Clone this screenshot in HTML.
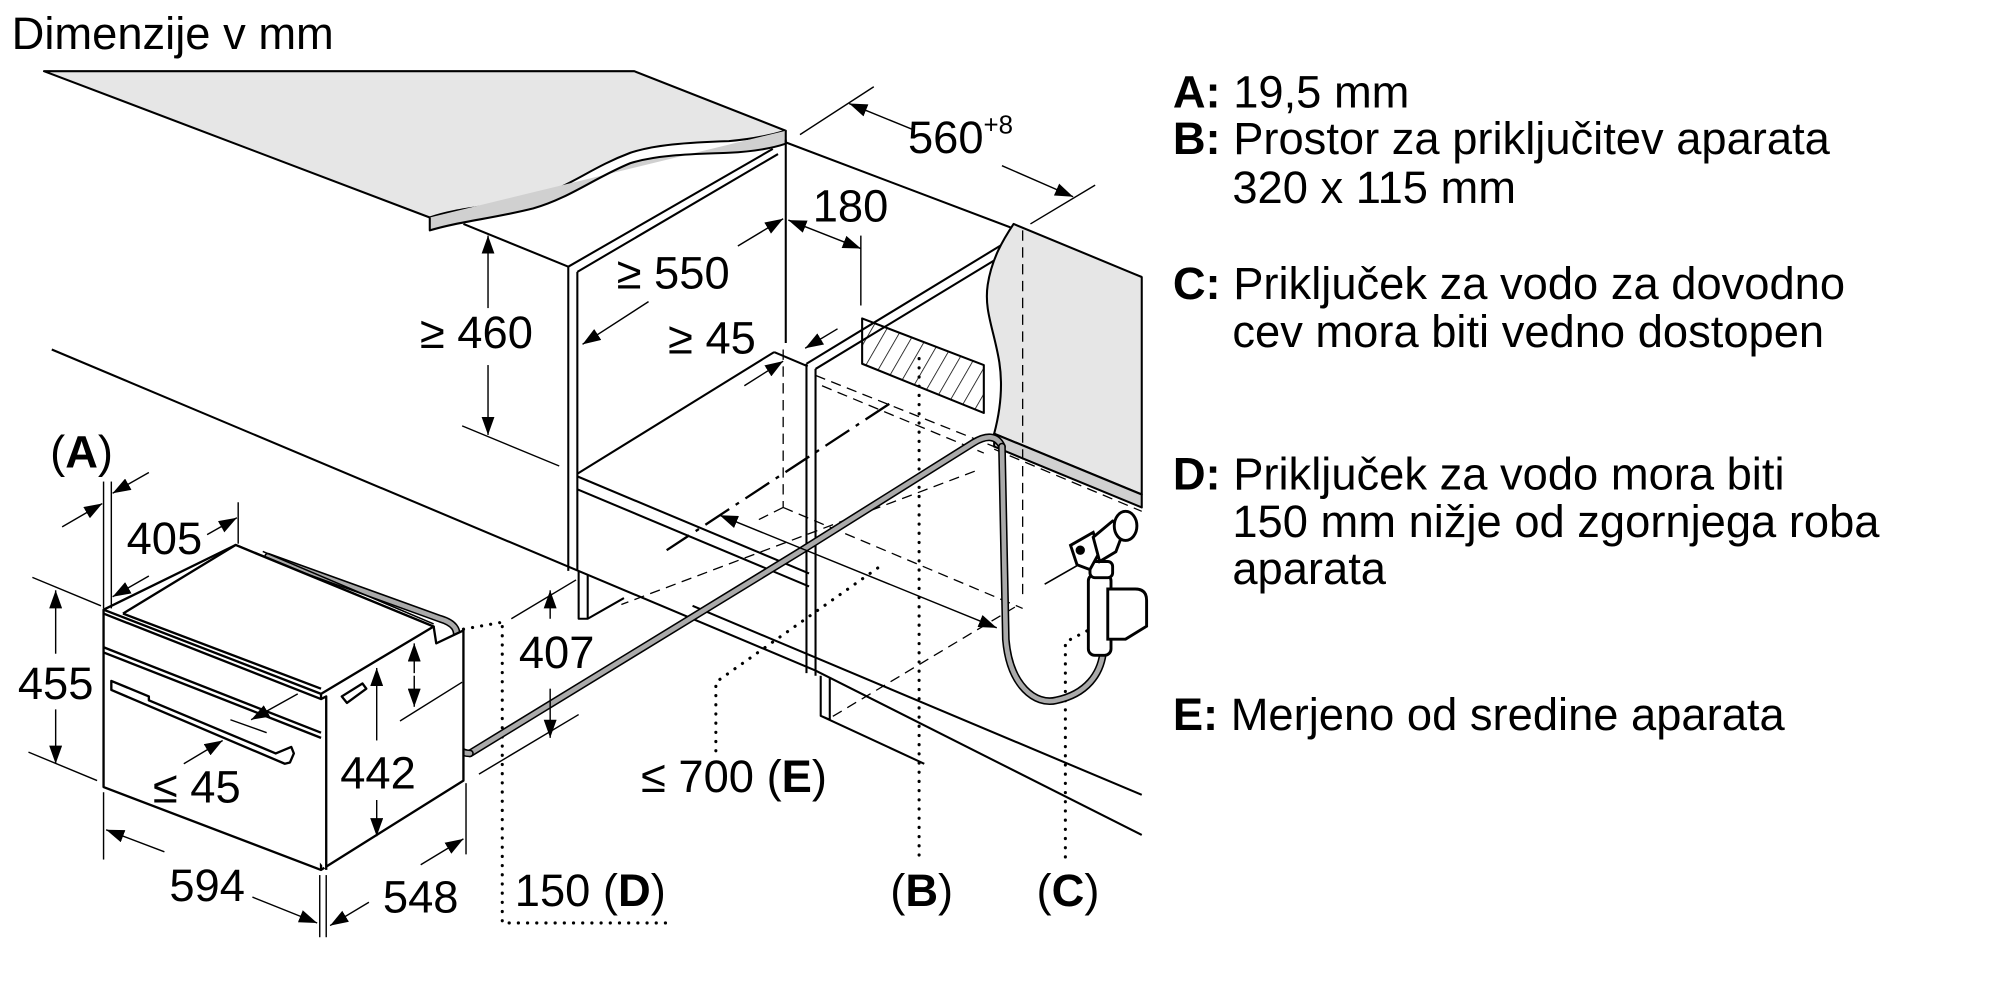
<!DOCTYPE html>
<html><head><meta charset="utf-8">
<style>
html,body{margin:0;padding:0;background:#fff;}
svg{display:block}
text{font-family:"Liberation Sans",Arial,sans-serif;fill:#000}
</style></head>
<body>
<svg width="2000" height="1000" viewBox="0 0 1545 772.5" preserveAspectRatio="none" xmlns="http://www.w3.org/2000/svg">
<defs>
<marker id="a" viewBox="0 0 14 10" refX="14" refY="5" markerWidth="14" markerHeight="10" markerUnits="userSpaceOnUse" orient="auto-start-reverse">
<path d="M0,0 L14,5 L0,10 Z" fill="#000"/></marker>
<pattern id="h" width="10" height="10" patternUnits="userSpaceOnUse" patternTransform="rotate(30)">
<line x1="0" y1="0" x2="0" y2="10" stroke="#000" stroke-width="1.2"/></pattern>
</defs>

<text x="9" y="38" font-size="35">Dimenzije v mm</text>

<!-- legend -->
<g font-size="35">
<text x="906" y="83"><tspan font-weight="bold">A:</tspan> 19,5 mm</text>
<text x="906" y="119"><tspan font-weight="bold">B:</tspan> Prostor za priključitev aparata</text>
<text x="952" y="157">320 x 115 mm</text>
<text x="906" y="231"><tspan font-weight="bold">C:</tspan> Priključek za vodo za dovodno</text>
<text x="952" y="268">cev mora biti vedno dostopen</text>
<text x="906" y="378"><tspan font-weight="bold">D:</tspan> Priključek za vodo mora biti</text>
<text x="952" y="415">150 mm nižje od zgornjega roba</text>
<text x="952" y="451">aparata</text>
<text x="906" y="564"><tspan font-weight="bold">E:</tspan> Merjeno od sredine aparata</text>
</g>

<g fill="none" stroke="#000" stroke-width="1.6" stroke-linejoin="round">
<!-- left countertop -->
<path d="M34,55 L490,55 L607,101 C590,106 575,108 563,109 C530,110 505,112 487,118 C455,130 440,145 412,152 C380,160 355,160 332,168 Z" fill="#e6e6e6"/>
<path d="M332,168 L332,178 C355,171 380,169 412,161 C440,153 460,137 487,126 C510,119 540,119 563,118 C585,117 598,114 607,111 L607,101" fill="#d0d0d0"/>

<!-- left cabinet -->
<line x1="358" y1="173" x2="439" y2="206"/>
<line x1="439" y1="206" x2="597" y2="115"/>
<line x1="446" y1="210" x2="601" y2="119"/>
<line x1="439" y1="206" x2="439" y2="441"/>
<line x1="446" y1="210" x2="446" y2="441"/>
<line x1="607" y1="108" x2="607" y2="265"/>
<line x1="446" y1="366" x2="598" y2="272"/>
<line x1="598" y1="272" x2="624" y2="283"/>
<line x1="446" y1="368" x2="625" y2="443"/>
<line x1="446" y1="378" x2="625" y2="453"/>
<path d="M447,441 L447,478 L454,478 L454,444 M454,478 L482,462"/>

<line x1="607" y1="110" x2="882" y2="214"/>

<!-- right cabinet panel -->
<line x1="623" y1="281" x2="779" y2="186"/>
<line x1="630" y1="285" x2="770" y2="200"/>
<line x1="623" y1="281" x2="623" y2="520"/>
<line x1="630" y1="285" x2="630" y2="522"/>
<path d="M634,522 L634,553 L641,556 L641,524 M634,553 L714,590"/>

<!-- right countertop -->
<path d="M783,173 L882,214 L882,382 L768,335 C772,320 775,300 772,280 C768,255 760,240 763,220 C766,200 775,185 783,173 Z" fill="#e6e6e6"/>
<path d="M768,335 L768,345 L882,392 L882,382 Z" fill="#d0d0d0"/>

<!-- floor lines -->
<line x1="40" y1="270" x2="630" y2="518"/>
<line x1="630" y1="518" x2="882" y2="645"/>
<line x1="535" y1="468" x2="882" y2="614"/>

<path d="M666,246 L666,281 L760,319 L760,282 Z" fill="url(#h)"/>
</g>

<g fill="none" stroke="#000" stroke-width="1" stroke-dasharray="8,5">
<line x1="605" y1="270" x2="605" y2="392"/>
<line x1="605" y1="392" x2="790" y2="470"/>
<line x1="630" y1="290" x2="768" y2="345"/>
<line x1="635" y1="298" x2="760" y2="350"/>
<line x1="790" y1="178" x2="790" y2="460"/>
<line x1="768" y1="347" x2="882" y2="395"/>
<line x1="753" y1="364" x2="480" y2="467"/>
<line x1="784" y1="469" x2="639" y2="556"/>
<line x1="605" y1="392" x2="585" y2="402"/>
</g>
<line x1="687" y1="312" x2="515" y2="425" stroke="#000" stroke-width="1.8" stroke-dasharray="22,6,3,6"/>

<g fill="none" stroke="#000" stroke-width="2.4" stroke-dasharray="0.1,7" stroke-linecap="round">
<line x1="710" y1="277" x2="710" y2="662"/>
<path d="M823,662 L823,496 L850,482"/>
<path d="M553,580 L553,527 L682,436"/>
<path d="M388,484 L388,713 L521,713"/>
<line x1="358" y1="486" x2="386" y2="481"/>
<line x1="327" y1="511" x2="343" y2="506"/>
</g>

<g fill="none" stroke-linecap="round" stroke-linejoin="round">
<path d="M363,582 L618,426 L752,342 C762,336 770,336 774,345" stroke="#000" stroke-width="6"/>
<path d="M363,582 L618,426 L752,342 C762,336 770,336 774,345" stroke="#aaa" stroke-width="3.6"/>
<path d="M774,345 L777,494 C780,530 800,545 816,541 C840,536 850,520 852,505" stroke="#000" stroke-width="6"/>
<path d="M774,345 L777,494 C780,530 800,545 816,541 C840,536 850,520 852,505" stroke="#aaa" stroke-width="3.6"/>
<path d="M207,430 L340,478 C350,481 355,486 352,495 L352,570 C352,578 356,582 363,582" stroke="#000" stroke-width="6"/>
<path d="M207,430 L340,478 C350,481 355,486 352,495 L352,570 C352,578 356,582 363,582" stroke="#aaa" stroke-width="3.6"/>
</g>

<!-- tap -->
<g fill="#fff" stroke="#000" stroke-width="1.8" transform="translate(852,455) scale(1.25) translate(-852,-455)">
<line x1="816" y1="452" x2="872" y2="420" stroke-width="1"/>
<rect x="843" y="446" width="14" height="50" rx="4"/>
<path d="M855,455 L872,455 Q879,455 879,462 L879,478 L866,486 L855,486 Z"/>
<rect x="844" y="438" width="14" height="10" rx="3"/>
<path d="M832,428 L846,420 L850,432 L844,443 L836,440 Z"/>
<path d="M846,423 L858,413 L866,416 L860,432 L850,438 Z"/>
<ellipse cx="866" cy="416" rx="7" ry="9"/>
<circle cx="838" cy="431" r="2" fill="#000"/>
</g>

<!-- oven -->
<g fill="#fff" stroke="#000" stroke-width="1.8" stroke-linejoin="round">
<path d="M80,471 L182,421 L335,484 L337,497 L358,487 L358,603 L248,672 L80,608 Z"/>
<path d="M95,474 L182,421 L335,484 L248,536"/>
<path d="M80,471 L248,536 L248,672"/>
<path d="M80,474 L248,540 L252,538 L252,672"/>
<line x1="80" y1="500" x2="248" y2="566"/>
<line x1="80" y1="504" x2="248" y2="570"/>
<line x1="95" y1="474" x2="248" y2="532"/>
<line x1="203" y1="426" x2="335" y2="482" stroke-width="1.2"/>
<path d="M86,526 L115,538 L115,541 L213,582 L225,577 L227,582 L224,589 L220,590 L86,533 Z"/>
<path d="M264,538 L280,528 L283,532 L268,543 Z"/>
</g>

<g fill="none" stroke="#000" stroke-width="1.1">
<line x1="377" y1="182" x2="377" y2="238" marker-start="url(#a)"/>
<line x1="377" y1="282" x2="377" y2="336" marker-end="url(#a)"/>
<line x1="357" y1="329" x2="432" y2="360"/>
<line x1="501" y1="233" x2="450" y2="266" marker-end="url(#a)"/>
<line x1="570" y1="190" x2="605" y2="169" marker-end="url(#a)"/>
<line x1="609" y1="170" x2="665" y2="192" marker-start="url(#a)" marker-end="url(#a)"/>
<line x1="665" y1="182" x2="665" y2="236"/>
<line x1="618" y1="104" x2="675" y2="67"/>
<line x1="705" y1="100" x2="656" y2="80" marker-end="url(#a)"/>
<line x1="774" y1="128" x2="829" y2="152" marker-end="url(#a)"/>
<line x1="796" y1="173" x2="846" y2="143"/>
<line x1="647" y1="254" x2="622" y2="269" marker-end="url(#a)"/>
<line x1="575" y1="298" x2="605" y2="279" marker-end="url(#a)"/>
<line x1="556" y1="398" x2="770" y2="485" marker-start="url(#a)" marker-end="url(#a)"/>
<line x1="80" y1="372" x2="80" y2="470"/>
<line x1="86" y1="372" x2="86" y2="470"/>
<line x1="48" y1="407" x2="79" y2="389" marker-end="url(#a)"/>
<line x1="115" y1="365" x2="87" y2="381" marker-end="url(#a)"/>
<line x1="184" y1="388" x2="184" y2="420"/>
<line x1="115" y1="445" x2="87" y2="461" marker-end="url(#a)"/>
<line x1="160" y1="413" x2="183" y2="400" marker-end="url(#a)"/>
<line x1="43" y1="456" x2="43" y2="505" marker-start="url(#a)"/>
<line x1="43" y1="548" x2="43" y2="590" marker-end="url(#a)"/>
<line x1="25" y1="446" x2="78" y2="468"/>
<line x1="22" y1="581" x2="75" y2="603"/>
<line x1="80" y1="612" x2="80" y2="664"/>
<line x1="247" y1="676" x2="247" y2="724"/>
<line x1="252" y1="676" x2="252" y2="724"/>
<line x1="127" y1="658" x2="82" y2="641" marker-end="url(#a)"/>
<line x1="195" y1="693" x2="245" y2="713" marker-end="url(#a)"/>
<line x1="285" y1="697" x2="255" y2="715" marker-end="url(#a)"/>
<line x1="325" y1="668" x2="358" y2="648" marker-end="url(#a)"/>
<line x1="360" y1="605" x2="360" y2="660"/>
<line x1="291" y1="572" x2="291" y2="516" marker-end="url(#a)"/>
<line x1="291" y1="618" x2="291" y2="646" marker-end="url(#a)"/>
<line x1="320" y1="520" x2="320" y2="497" marker-end="url(#a)"/>
<line x1="320" y1="522" x2="320" y2="546" marker-end="url(#a)"/>
<line x1="309" y1="557" x2="357" y2="527"/>
<line x1="425" y1="478" x2="425" y2="456" marker-end="url(#a)"/>
<line x1="425" y1="532" x2="425" y2="570" marker-end="url(#a)"/>
<line x1="395" y1="478" x2="445" y2="448"/>
<line x1="370" y1="598" x2="447" y2="552"/>
<line x1="230" y1="536" x2="194" y2="556" marker-end="url(#a)"/>
<line x1="142" y1="590" x2="172" y2="572" marker-end="url(#a)"/>
<line x1="178" y1="556" x2="206" y2="566"/>
</g>

<g font-size="35" text-anchor="middle">
<text x="368" y="269">≥ 460</text>
<text x="520" y="223">≥ 550</text>
<text x="550" y="273">≥ 45</text>
<text x="657" y="171">180</text>
<text x="742" y="118">560<tspan font-size="20" dy="-15">+8</tspan></text>
<text x="63" y="361">(<tspan font-weight="bold">A</tspan>)</text>
<text x="127" y="428">405</text>
<text x="43" y="540">455</text>
<text x="152" y="620">≤ 45</text>
<text x="292" y="609">442</text>
<text x="430" y="516">407</text>
<text x="160" y="696">594</text>
<text x="325" y="705">548</text>
<text x="456" y="700">150 (<tspan font-weight="bold">D</tspan>)</text>
<text x="567" y="612">≤ 700 (<tspan font-weight="bold">E</tspan>)</text>
<text x="712" y="700">(<tspan font-weight="bold">B</tspan>)</text>
<text x="825" y="700">(<tspan font-weight="bold">C</tspan>)</text>
</g>
</svg>
</body></html>
